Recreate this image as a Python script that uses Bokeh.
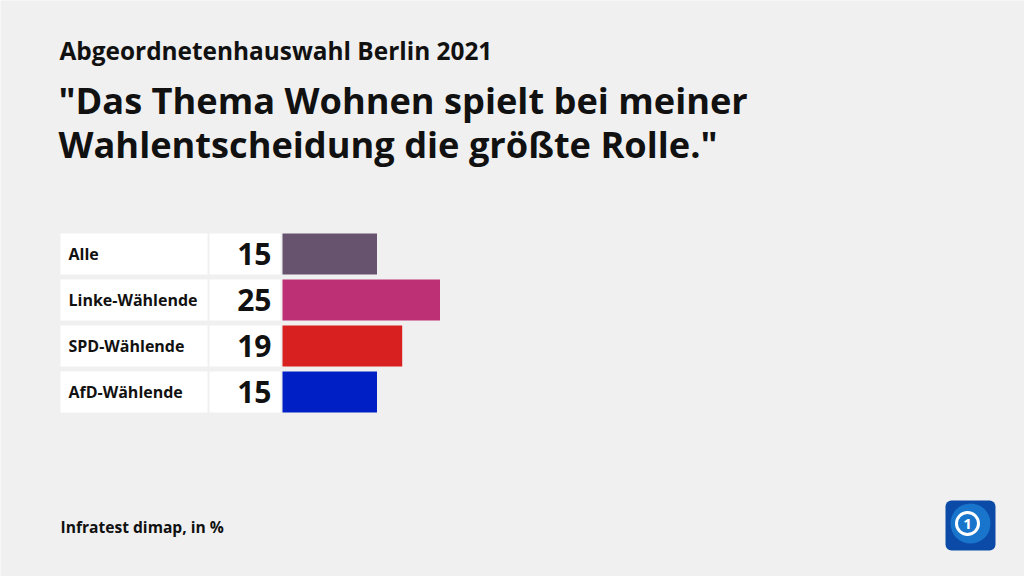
from bokeh.plotting import figure
from bokeh.models import Range1d, Label, ColumnDataSource
from bokeh.core.properties import value
from bokeh.embed import file_html
from bokeh.resources import INLINE

# ---- data ----
categories = ["Alle", "Linke-Wählende", "SPD-Wählende", "AfD-Wählende"]
values = [15, 25, 19, 15]
colors = ["#68536f", "#bd3075", "#d7201f", "#0020c6"]
supertitle = "Abgeordnetenhauswahl Berlin 2021"
title_lines = ['"Das Thema Wohnen spielt bei meiner', 'Wahlentscheidung die größte Rolle."']
source_note = "Infratest dimap, in %"

# ---- layout constants (pixels) ----
W, H = 1024, 576
X0 = 282.0      # pixel position of value 0
S = 6.3         # pixels per unit
ROW0 = 253.5    # pixel y (from top) of first row centre
PITCH = 46.0    # row pitch
ROWH = 41.0     # row height
BG = "#f0f0f0"
FONT = "Open Sans"

def px(xp):
    return (xp - X0) / S

def py(yp):
    return (yp - ROW0) / PITCH

p = figure(width=W, height=H, output_backend="svg", toolbar_location=None,
           x_range=Range1d(px(0), px(W)),
           y_range=Range1d((H - ROW0) / PITCH, -ROW0 / PITCH),
           min_border=0, border_fill_color=BG, background_fill_color=BG,
           outline_line_color=None)
p.axis.visible = False
p.grid.visible = False

ys = list(range(len(categories)))
h = ROWH / PITCH
src = ColumnDataSource(dict(y=ys, v=values, c=colors, cat=categories,
                            vs=[str(v) for v in values]))

# label boxes and value boxes
p.hbar(y="y", left=px(60), right=px(207), height=h, fill_color="white", line_color=None, source=src)
p.hbar(y="y", left=px(209), right=px(280), height=h, fill_color="white", line_color=None, source=src)
# bars
p.hbar(y="y", left=0, right="v", height=h, fill_color="c", line_color=None, source=src)

p.text(x=px(68), y="y", text="cat", source=src, text_font=value(FONT), text_font_style="bold",
       text_font_size="16px", text_baseline="middle", text_align="left", text_color="#111111")
p.text(x=px(271), y="y", text="vs", source=src, text_font=value(FONT), text_font_style="bold",
       text_font_size="30px", text_baseline="middle", text_align="right", text_color="#111111",
       y_offset=0)

def lab(txt, x, ybase, size, bold=True):
    p.add_layout(Label(x=x, y=H - ybase, x_units="screen", y_units="screen", text=txt,
                       text_font=FONT, text_font_size=size,
                       text_font_style="bold" if bold else "normal",
                       text_baseline="alphabetic", text_color="#111111"))

lab(supertitle, 59, 50, "24.4px")
lab(title_lines[0], 58, 99, "36.2px")
lab(title_lines[1], 58, 143, "36.2px")
lab(source_note, 60, 526, "15.6px")

# logo
LX0, LX1, LY0, LY1 = 945, 995, 500, 550
p.quad(left=[px(LX0)], right=[px(LX1)], top=[py(LY0)], bottom=[py(LY1)],
       fill_color="#0b4aa6", line_color=None, border_radius=6)
p.ellipse(x=[px(970)], y=[py(523)], width=[40 / S], height=[40 / PITCH],
          fill_color="#1d7fd6", line_color=None, fill_alpha=0.8)
p.ellipse(x=[px(967)], y=[py(523)], width=[22 / S], height=[22 / PITCH],
          fill_color=None, line_color="white", line_width=3)
p.text(x=[px(967)], y=[py(523)], text=["1"], text_font=value(FONT), text_font_style="bold",
       text_font_size="15px", text_align="center", text_baseline="middle", text_color="white")

open("out.html", "w").write(file_html(p, INLINE))
